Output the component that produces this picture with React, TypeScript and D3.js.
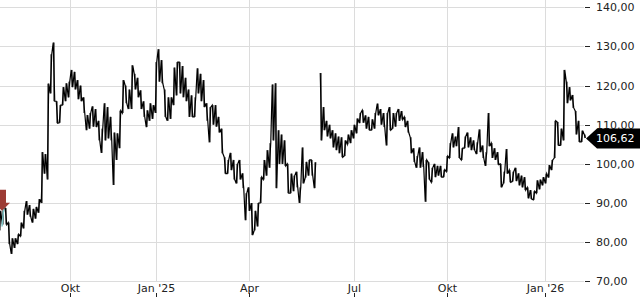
import React from "react";
import * as d3 from "d3";

const W = 640;
const H = 300;

const yTicks = [70, 80, 90, 100, 110, 120, 130, 140];
const xTickLabels = ["Okt", "Jan '25", "Apr", "Jul", "Okt", "Jan '26"];
// position of the first bar of each labelled month (bar index)
const xTickIndex = [23.43, 52.1, 82.9, 118.1, 149.1, 181.77];

const highs: (number | null)[] = [
  88, 88.5, 88.7, 85, 81, 81, 82, 85, 88, 90.5,
  89.5, 88.5, 89, 91, 103, 102.5, 120.5, 128, 131, 116,
  115, 119.6, 120.6, 121, 124, 123.5, 121.4, 120, 117, 112.5,
  113, 114.7, 114, 111, 109, 115.5, 114.5, 112, 108, 107.8,
  113.6, 121.4, 120, 119, 125.2, 123, 122, 118.8, 116, 113.7,
  115.5, 115, 126, 129.3, 126.5, 119, 117, 117, 124.6, 126,
  126, 125, 122, 119, 117.5, 117, 124.4, 123, 121.4, 115.5,
  114.5, 115, 115, 112, 109, 101.7, 101, 102.8, 101, 100,
  101, 97.6, 92.5, 94, 90, 88, 90, 96.6, 101, 103.5,
  105.3, 120.3, 120.6, 108.6, 107.5, 106, 100, 97.5, 97, 98,
  94, 104.2, 100.5, 101, 101, 100.4, null, 123.2, 114.5, 111,
  110, 108.6, 107.8, 107, 106.8, 106, 107.5, 108.6, 110, 111.6,
  113, 113.7, 112.4, 112, 111.4, 113, 115.4, 114, 113, 113,
  114.5, 113, 113, 114, 113.5, 112, 111, 106.8, 104, 102,
  104.2, 103, 101, 100.4, 99, 100, 99.5, 99.5, 98.5, 102,
  105.3, 107.8, 107, 109.4, 104, 107, 108, 106.8, 106, 105.5,
  108.8, 104.7, 103, 113, 105.3, 104, 103, 100, 98, 103.8,
  98.4, 98, 99, 97.6, 97, 96.6, 94, 93.3, 93, 95.8,
  96, 96.6, 97.5, 99.7, 101, 111, 110.7, 109, 124, 121,
  119.6, 117.6, 113.5, 111, 108.5, 107.5,
];

const lows: (number | null)[] = [
  83, 84.5, 84.5, 79.5, 77, 78.5, 79.5, 81.5, 83.5, 87,
  86.5, 85, 86, 87.5, 90, 97.5, 96, 118, 116, 110.4,
  110.5, 115, 116, 117, 119.6, 119, 116.5, 116, 113, 108.6,
  109, 109.5, 109.4, 106, 102.8, 106, 106.5, 106, 94.6, 101,
  104, 113, 115.5, 114, 114, 119, 117, 114, 112, 109.4,
  111, 111.5, 113, 121, 120.6, 112, 111, 111.5, 115, 117.5,
  118, 117, 116, 112, 112, 112, 118, 116, 114.5, 111,
  105.5, 110, 109.5, 108, 102.7, 97.5, 97.5, 98.4, 96, 95,
  96, 93.8, 85.6, 88, 81.8, 83, 84, 90, 96, 97,
  99, 106, 93.8, 100, 100, 99.5, 92.5, 92.5, 93, 94,
  90, 95, 96.5, 97, 97, 93.8, null, 106, 108.6, 107,
  106.5, 104.2, 103.5, 102.7, 101.7, 102, 105, 105.3, 106.5, 107.8,
  110.4, 110.5, 109, 108.6, 108.6, 109, 112.4, 110, 109.4, 104.7,
  108.6, 109, 109.5, 111, 111.3, 109.4, 108, 102.7, 100.5, 99,
  99, 99.2, 90.3, 96, 95.3, 96.6, 97, 96.6, 96.6, 98,
  101.5, 104.2, 104.5, 101.5, 101, 104, 104.2, 103.5, 103.5, 102.5,
  103, 101.5, 99.5, 104.5, 101.5, 101, 99.8, 94, 95, 97.5,
  95.3, 95.5, 95.6, 94.5, 94, 93.3, 91.2, 91, 90.8, 92.5,
  93.5, 94.5, 95, 96.5, 98.4, 101.5, 104.7, 104.7, 106, 115.5,
  116.2, 114.3, 107.5, 105.6, 105.6, 106.62,
];

const lastPrice = 106.62;
const signalPrice = 88;

const fmt = (v: number) => v.toFixed(2).replace(".", ",");

export default function App() {
  const n = highs.length;
  const x = d3.scaleLinear().domain([0, n - 1]).range([0, 585]);
  const y = d3.scaleLinear().domain([70, 140]).range([281.3, 7.3]);

  // build zig-zag points
  type P = { x: number; v: number } | null;
  const pts: P[] = [];
  for (let i = 0; i < n; i++) {
    const h = highs[i];
    const l = lows[i];
    if (h == null || l == null) {
      pts.push(null);
      continue;
    }
    const nh = highs[i + 1];
    const nl = lows[i + 1];
    const mid = (h + l) / 2;
    const nextMid = nh != null && nl != null ? (nh + nl) / 2 : mid;
    const order = nextMid >= mid ? [l, h] : [h, l];
    if (i === n - 1) {
      pts.push({ x: i - 0.25, v: h });
      pts.push({ x: i + 0.1, v: lastPrice });
    } else {
      pts.push({ x: i - 0.25, v: order[0] });
      pts.push({ x: i + 0.25, v: order[1] });
    }
  }
  const line = d3
    .line<P>()
    .defined((d) => d != null)
    .x((d) => x(d!.x))
    .y((d) => y(d!.v));
  const pathD = line(pts) || "";

  const font = "'DejaVu Sans', Verdana, sans-serif";
  const yLast = y(lastPrice);
  const ySig = y(signalPrice);

  return (
    <svg
      width={W}
      height={H}
      style={{ position: "absolute", left: 0, top: 0, background: "#fff" }}
    >
      {/* horizontal grid */}
      {yTicks.map((t) => {
        const yy = Math.round(y(t)) + 0.5;
        return (
          <g key={"y" + t}>
            <line x1={0} x2={584} y1={yy} y2={yy} stroke="#dcdcdc" strokeWidth={1} />
            <line x1={585} x2={590} y1={yy} y2={yy} stroke="#222" strokeWidth={1} />
            <text
              x={596}
              y={yy}
              dy="0.35em"
              fontFamily={font}
              fontSize={11}
              fill="#222"
            >
              {fmt(t)}
            </text>
          </g>
        );
      })}
      {/* vertical grid */}
      {xTickIndex.map((ti, k) => {
        const xx = Math.round(x(ti)) + 0.5;
        return (
          <g key={"x" + k}>
            <line x1={xx} x2={xx} y1={0} y2={282} stroke="#dcdcdc" strokeWidth={1} />
            <line x1={xx} x2={xx} y1={293} y2={297} stroke="#222" strokeWidth={1} />
            <text
              x={xx}
              y={291.5}
              textAnchor="middle"
              fontFamily={font}
              fontSize={11}
              fill="#222"
            >
              {xTickLabels[k]}
            </text>
          </g>
        );
      })}

      {/* price line */}
      <path d={pathD} fill="none" stroke="#000" strokeWidth={1.2} strokeLinejoin="miter" />
      {/* high-low bars */}
      {highs.map((h, i) =>
        h == null || lows[i] == null ? null : (
          <line
            key={"b" + i}
            x1={x(i)}
            x2={x(i)}
            y1={y(h)}
            y2={y(lows[i] as number)}
            stroke="#000"
            strokeWidth={1}
          />
        )
      )}

      {/* signal marker */}
      <line
        x1={x(0) + 4}
        x2={x(0) + 2}
        y1={ySig - 5}
        y2={y(lows[1] as number) + 2}
        stroke="#7fc7c9"
        strokeWidth={1.5}
      />
      <polygon
        points={`0,${ySig - 21} 6,${ySig - 21} 6,${ySig - 8} 10,${ySig - 8} 2,${ySig} 0,${ySig - 2}`}
        fill="#9c3b34"
      />

      {/* last price label */}
      <polygon
        points={`586,${yLast + 0.5} 597,${yLast - 9.5} 640,${yLast - 9.5} 640,${yLast + 10.5} 597,${yLast + 10.5}`}
        fill="#000"
      />
      <text
        x={596}
        y={yLast + 0.5}
        dy="0.35em"
        fontFamily={font}
        fontSize={11}
        fill="#fff"
      >
        {fmt(lastPrice)}
      </text>
    </svg>
  );
}
